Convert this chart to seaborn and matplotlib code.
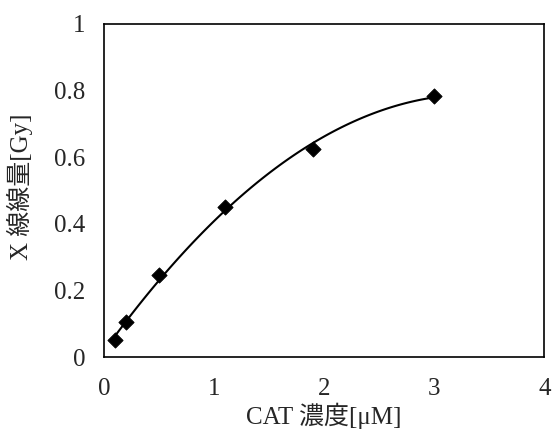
import numpy as np
import matplotlib
matplotlib.use("Agg")
import matplotlib.pyplot as plt
import seaborn as sns

# CAT concentration [uM] vs X-ray dose [Gy]
cat_conc = [0.1, 0.2, 0.5, 1.1, 1.9, 3.0]
xray_dose = [0.05, 0.105, 0.245, 0.45, 0.625, 0.785]

sns.set_style("white")
plt.rcParams['font.family'] = ['Liberation Serif', 'Noto Sans CJK JP']

fig, ax = plt.subplots(figsize=(5.52, 4.36), dpi=100)
fig.subplots_adjust(left=0.188, right=0.986, top=0.945, bottom=0.181)

# polynomial trendline (order 2) like the spreadsheet one
coef = np.polyfit(cat_conc, xray_dose, 2)
xs = np.linspace(min(cat_conc), max(cat_conc), 100)
sns.lineplot(x=xs, y=np.polyval(coef, xs), color="black", linewidth=1.5, ax=ax)

sns.scatterplot(x=cat_conc, y=xray_dose, marker="D", s=60, color="black",
                edgecolor="black", ax=ax, zorder=3)

ax.set_xlim(0, 4)
ax.set_ylim(0, 1)
ax.set_xticks([0, 1, 2, 3, 4])
ax.set_yticks([0, 0.2, 0.4, 0.6, 0.8, 1])
ax.set_xticklabels(["0", "1", "2", "3", "4"])
ax.set_yticklabels(["0", "0.2", "0.4", "0.6", "0.8", "1"])
ax.tick_params(length=0, labelsize=18)
ax.tick_params(axis="y", pad=13)
ax.tick_params(axis="x", pad=15)

ax.set_xlabel("CAT 濃度[μM]", fontsize=18, labelpad=2)
ax.set_ylabel("X 線線量[Gy]", fontsize=18)
ax.yaxis.set_label_coords(-0.161, 0.51)

for sp in ax.spines.values():
    sp.set_color("black")
    sp.set_linewidth(1.2)

fig.savefig("out.png", dpi=100)
